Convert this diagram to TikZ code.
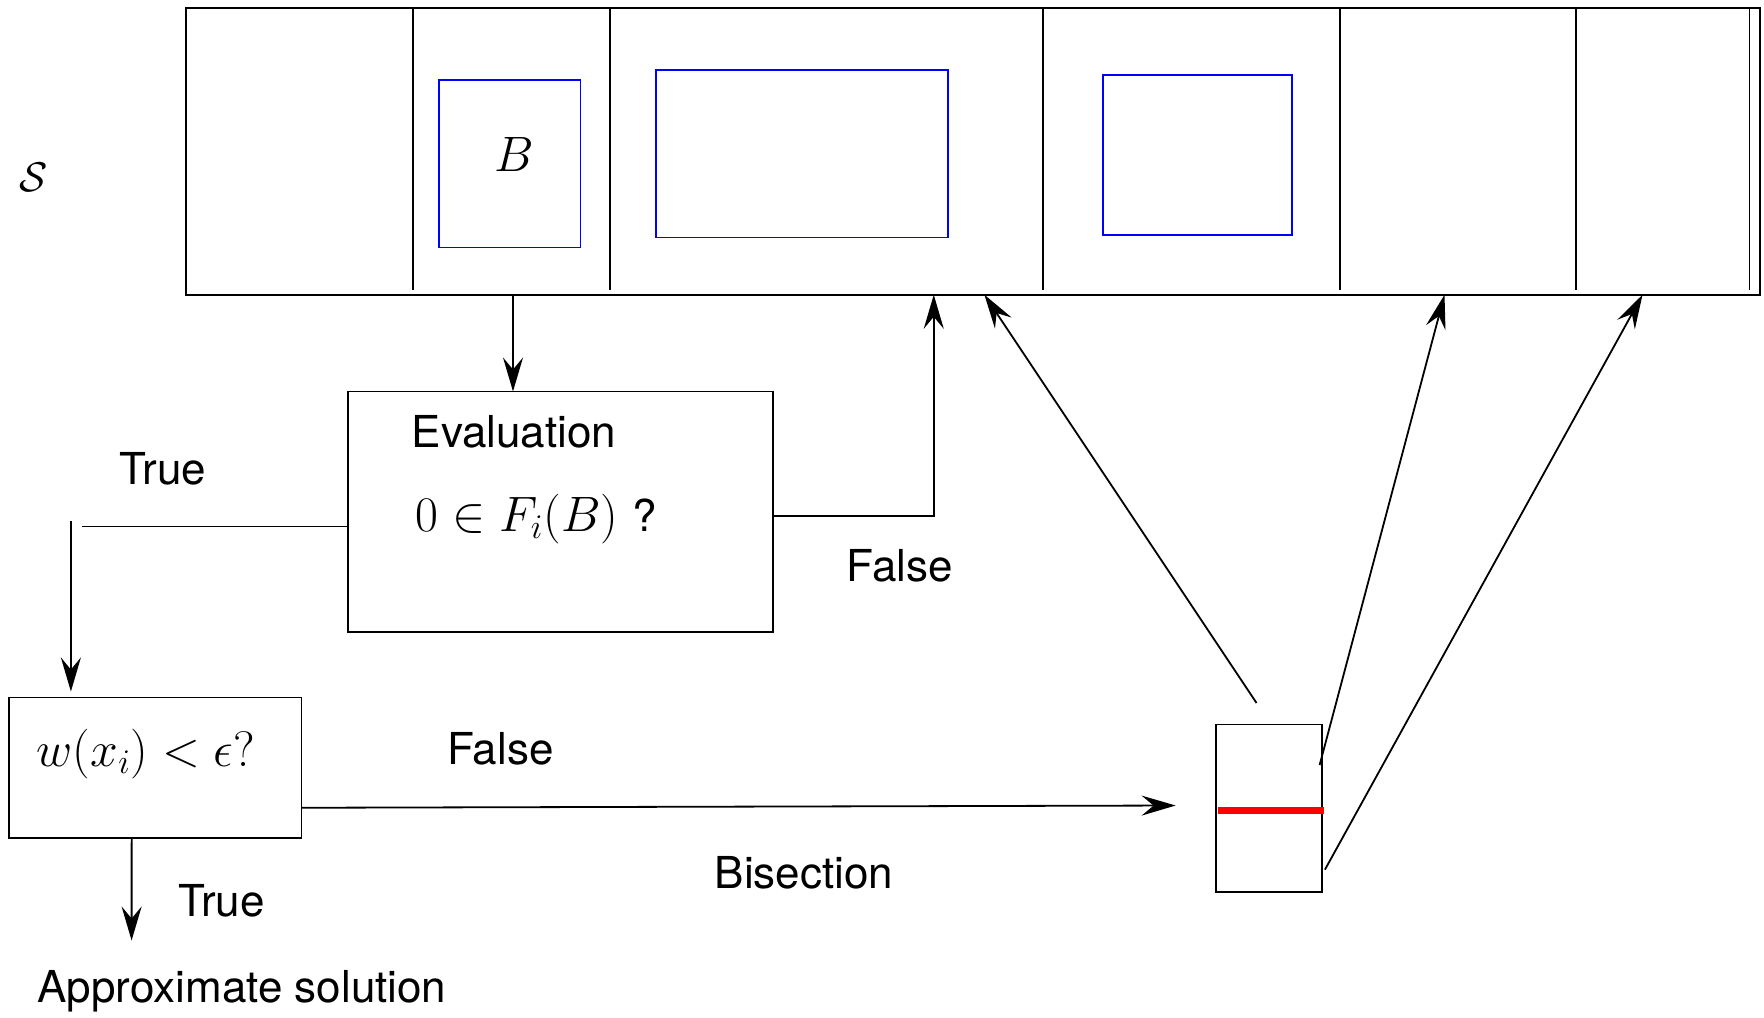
\documentclass[tikz,border=0pt]{standalone}
\usepackage{fontspec}
\setmainfont{TeX Gyre Heros}
\usetikzlibrary{positioning, arrows.meta}
\definecolor{boxBlue}{HTML}{0000FF}
\definecolor{cutRed}{HTML}{FF0000}
\tikzset{
  frame/.style={draw, outer sep=0pt, inner sep=0pt},
  subbox/.style={draw=boxBlue, outer sep=0pt, inner sep=0pt},
  mathtext/.style={font=\fontsize{26.5}{30}\selectfont},
  flow/.style={-{Stealth[length=17pt, width=10pt, inset=6pt]}}
}

\begin{document}
\begin{tikzpicture}[x=0.5pt, y=-0.5pt, line width=0.9pt,
    font=\fontsize{22}{26}\selectfont]
    \useasboundingbox (0,0) rectangle (1764,1017);

    % list S of boxes
    \node[frame, line width=1.1pt, minimum width=787.2pt, minimum height=143.4pt] (strip) at (972.8,151.3) {};
    \foreach \x in {412.9, 609.75, 1042.9, 1339.9, 1576.1, 1749.4}
      \draw (\x,7.9) -- (\x,290);
    \node (slabel) at (33.75,177.75) {$\mathcal{S}$};
    \node[subbox, minimum width=70.9pt, minimum height=83.8pt] (boxB) at (509.6,163.7) {};
    \node[mathtext] (blabel) at (514,154) {$B$};
    \node[subbox, minimum width=146.25pt, minimum height=83.8pt] (boxC) at (802.1,153.6) {};
    \node[subbox, minimum width=94.6pt, minimum height=80pt] (boxD) at (1197.3,155) {};

    \coordinate (outB) at (513,294.75);
    \coordinate (hitA) at (933.75,294.75);
    \coordinate (hitB) at (984.4,294.75);
    \coordinate (hitC) at (1444.5,294.75);
    \coordinate (hitD) at (1642.5,294.75);

    % evaluation
    \node[frame, minimum width=212.6pt, minimum height=120.4pt] (eval) at (560.25,511.9) {};
    \node (evaltitle) at (514,432) {Evaluation};
    \node[mathtext] (evaltest) at (536.6,518.6) {$0 \in F_i(B)$ {\fontsize{22}{26}\selectfont ?}};
    \draw[flow] (outB) -- (eval.north -| outB);
    \draw[flow] ([yshift=-2.2pt]eval.east) -| (hitA);
    \node (falseA) at (900,566) {False};

    \coordinate (trueL) at (82,526.5);
    \coordinate (trueD) at (70.9,521);
    \draw (eval.west |- trueL) -- (trueL);
    \node (trueA) at (163,469) {True};

    % width test
    \node[frame, minimum width=146.25pt, minimum height=70.25pt] (wtest) at (155.25,767.75) {};
    \node[mathtext] (wtesttext) at (146,754) {$w(x_i) < \epsilon?$};
    \draw[flow, shorten >=3pt] (trueD) -- (wtest.north -| trueD);

    \coordinate (solTop) at (131.6,940.5);
    \draw[flow] ([xshift=-11.8pt]wtest.south) -- (solTop);
    \node (trueB) at (221.6,901) {True};
    \node (solution) at (242,991) {Approximate solution};

    % bisection
    \node[frame, minimum width=52.95pt, minimum height=83.75pt] (half) at (1268.95,808.25) {};
    \draw[cutRed, line width=3.5pt] ([xshift=1pt,yshift=-0.9pt]half.west) -- ([xshift=1pt,yshift=-0.9pt]half.east);
    \coordinate (bisE) at (1175.6,805.5);
    \draw[flow] ([yshift=-20pt]wtest.east) -- (bisE);
    \node (falseB) at (500.6,749) {False};
    \node (bisection) at (804,873) {Bisection};

    \draw[flow] ([xshift=-6.2pt,yshift=10.75pt]half.north) -- (hitB);
    \draw[flow] ([xshift=-1.15pt,yshift=21.6pt]half.east) -- (hitC);
    \draw[flow] ([xshift=1.5pt,yshift=-30.7pt]half.east) -- (hitD);
\end{tikzpicture}
\end{document}
